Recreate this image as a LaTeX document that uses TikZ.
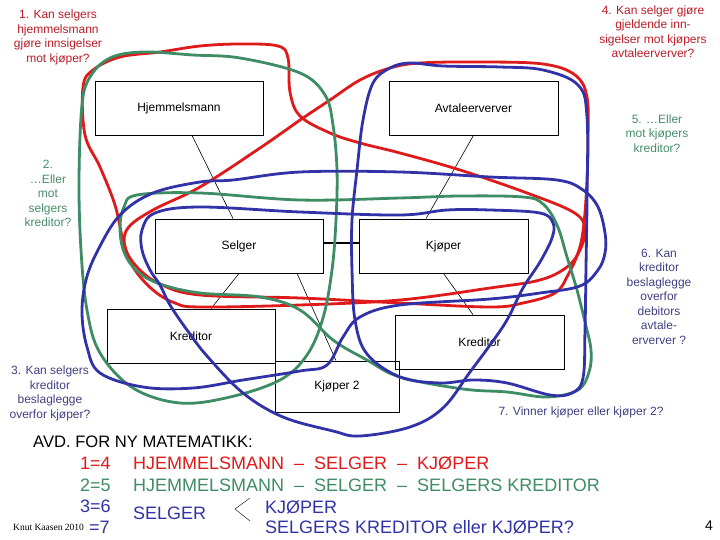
\documentclass[tikz,border=0pt]{standalone}
\usepackage{fontspec}
\setmainfont{Liberation Sans}
\newfontfamily\kaasenfont{Liberation Serif}
\definecolor{loopred}{RGB}{222,26,26}
\definecolor{loopgreen}{RGB}{62,140,100}
\definecolor{loopblue}{RGB}{50,50,168}
\definecolor{textred}{RGB}{185,28,38}
\definecolor{textgreen}{RGB}{70,140,105}
\definecolor{textblue}{RGB}{64,64,130}

\begin{document}
\begin{tikzpicture}[x=1pt, y=-1pt,
    box/.style={draw, line width=0.8pt, minimum width=168pt, minimum height=54pt, inner sep=0pt, font=\fontsize{12}{14}\selectfont},
    question/.style={align=center, font=\fontsize{12}{14.5}\selectfont},
    loopline/.style={line width=2.8pt, line join=round},
    big/.style={anchor=base west, inner sep=0pt, font=\fontsize{18}{20}\selectfont}]

    \useasboundingbox (0,0) rectangle (720,540);

    % nodes (boxes)
    \node[box] (hjem) at (179,108) {Hjemmelsmann};
    \node[box, minimum width=169pt] (avtale) at (473.5,108) {Avtaleerverver};
    \node[box] (selger) at (239,246) {Selger};
    \node[box, minimum width=169pt] (kjoper) at (443.5,246) {Kjøper};
    \node[box] (kredA) at (191,336) {Kreditor};
    \node[box, minimum width=169pt] (kredB) at (479.5,342) {Kreditor};
    \node[box, minimum width=124pt, minimum height=51pt] (kjoperB) at (337,386.5) {Kjøper 2};

    % edges
    \draw[line width=0.6pt] ([xshift=13pt]hjem.south) to ([xshift=-6pt]selger.north); % hjemmelsmann -> selger
    \draw[line width=0.6pt] (avtale.south) to ([xshift=-17.5pt]kjoper.north); % avtaleerverver -> kjoper
    \draw[line width=0.6pt] (selger.south) to ([xshift=20pt]kredA.north); % selger -> kreditor
    \draw[line width=0.6pt] ([xshift=58pt]selger.south) to ([xshift=-1pt]kjoperB.north); % selger -> kjoper 2
    \draw[line width=0.6pt] (kjoper.south) to ([xshift=-6.5pt]kredB.north); % kjoper -> kreditor
    \draw[line width=1.8pt] ([yshift=3pt]selger.east) to ([yshift=3pt]kjoper.west); % selger -- kjoper

    % questions
    \node[question, textred] (q1) at (58,37.5) {1. Kan selgers\\hjemmelsmann\\gjøre innsigelser\\mot kjøper?};
    \node[question, textgreen] (q2) at (48,193.5) {2.\\…Eller\\mot\\selgers\\kreditor?};
    \node[question, textblue] (q3) at (50,393.5) {3. Kan selgers\\kreditor\\beslaglegge\\overfor kjøper?};
    \node[question, textred] (q4) at (653,31.5) {4. Kan selger gjøre\\gjeldende inn-\\sigelser mot kjøpers\\avtaleerverver?};
    \node[question, textgreen] (q5) at (657,133.5) {5. …Eller\\mot kjøpers\\kreditor?};
    \node[question, textblue] (q6) at (659,296.5) {6. Kan\\kreditor\\beslaglegge\\overfor\\debitors\\avtale-\\erverver ?};
    \node[question, textblue] (q7) at (581,412) {7. Vinner kjøper eller kjøper 2?};

    % loops 1 and 4
    \draw[loopline, loopred] plot[smooth cycle, tension=0.6] coordinates {
        (83,87) (93,70) (120,57) (160,52) (200,46) (240,44) (278,46) (288,58)
        (290,92) (300,116) (330,133) (360,143) (400,153) (460,170) (527,193)
        (573,212) (585,228) (580,250) (567,267) (540,280) (490,288) (400,300)
        (300,305) (200,307) (175,303) (153,290) (133,267) (123,240) (115,205)
        (100,167) (85,135)};
    \draw[loopline, loopred] plot[smooth cycle, tension=0.6] coordinates {
        (360,80) (390,68) (420,63) (480,62) (543,64) (575,75) (587,97) (588,140)
        (587,180) (584,223) (579,250) (568,275) (555,293) (523,303) (490,307)
        (400,303) (300,298) (200,295) (160,284) (137,267) (125,247) (128,228)
        (153,210) (200,187) (260,148) (303,118) (330,100)};

    % loops 2 and 5
    \draw[loopline, loopgreen] plot[smooth cycle, tension=0.6] coordinates {
        (82,105) (90,77) (110,58) (143,52) (193,55) (240,58) (300,73) (325,95)
        (333,125) (337,170) (336,220) (332,270) (323,318) (307,355) (280,380)
        (230,397) (180,403) (133,388) (100,353) (87,310) (81,250) (79,180)};
    \draw[loopline, loopgreen] plot[smooth cycle, tension=0.6] coordinates {
        (137,195) (200,193) (300,200) (400,198) (460,196) (523,197) (543,204)
        (557,225) (567,257) (577,290) (585,322) (591,350) (589,372) (578,390)
        (547,397) (507,392) (463,389) (400,377) (367,360) (333,340) (300,310)
        (260,297) (200,293) (160,284) (137,271) (124,252) (120,228) (124,207)};

    % loops 3, 6 and 7
    \draw[loopline, loopblue] plot[smooth cycle, tension=0.6] coordinates {
        (153,193) (200,182) (233,180) (300,172) (400,172) (490,177) (557,180)
        (583,190) (598,207) (605,233) (605,253) (598,270) (580,286) (540,293)
        (490,299) (400,305) (360,317) (343,337) (327,365) (300,371) (243,380)
        (193,388) (143,387) (100,373) (87,347) (82,313) (86,280) (98,250) (120,215)};
    \draw[loopline, loopblue] plot[smooth cycle, tension=0.6] coordinates {
        (373,83) (390,68) (410,63) (443,66) (500,67) (543,70) (578,85) (587,117)
        (587,200) (586,267) (585,330) (583,378) (572,393) (550,395) (507,383)
        (473,380) (440,383) (400,377) (367,354) (355,320) (352,270) (352,220)
        (357,170) (363,120)};
    \draw[loopline, loopblue] plot[smooth cycle, tension=0.6] coordinates {
        (142,230) (155,213) (200,207) (300,212) (400,215) (447,210) (490,210)
        (540,213) (553,223) (552,238) (540,262) (523,288) (507,320) (490,345)
        (470,372) (443,408) (410,427) (360,436) (333,431) (283,417) (243,393)
        (207,356) (187,330) (170,305) (160,285) (150,270) (142,250)};

    % summary
    \node[anchor=base west, inner sep=0pt, font=\fontsize{16.6}{18}\selectfont] (avd) at (33,447) {AVD. FOR NY MATEMATIKK:};
    \node[big, loopred] (eqA) at (80,469) {1=4};
    \node[big, loopred] (rowA) at (133,469) {HJEMMELSMANN \;–\; SELGER \;–\; KJØPER};
    \node[big, loopgreen] (eqB) at (80,491) {2=5};
    \node[big, loopgreen] (rowB) at (133,491) {HJEMMELSMANN \;–\; SELGER \;–\; SELGERS KREDITOR};
    \node[big, loopblue] (eqC) at (80,512) {3=6};
    \node[big, loopblue] (rowC) at (133,519) {SELGER};
    \node[big, loopblue] (rowD) at (265,513) {KJØPER};
    \node[big, loopblue] (rowE) at (265,533) {SELGERS KREDITOR eller KJØPER?};
    \node[anchor=base west, inner sep=0pt, font=\kaasenfont\fontsize{9.5}{11}\selectfont] (kaasen) at (13,530) {Knut Kaasen 2010};
    \node[big, loopblue] (eqD) at (89,533) {=7};
    \node[anchor=base west, inner sep=0pt, font=\fontsize{14}{16}\selectfont] (page) at (705,530) {4};
    \coordinate (fork) at (235,509);
    \draw[thin] ([shift={(15,-11)}]fork) -- (fork) -- ([shift={(15,12)}]fork); % selger < ...

\end{tikzpicture}
\end{document}
